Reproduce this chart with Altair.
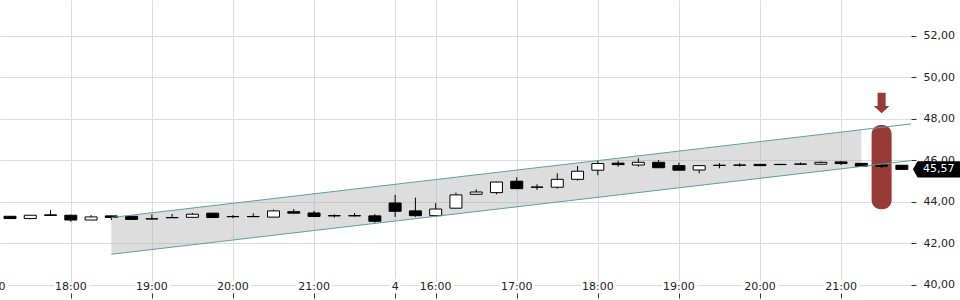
import altair as alt
import pandas as pd

# ---- candle data (15-minute bars, index-based x axis) ----
idx = list(range(45))
opens = [43.31, 43.20, 43.38, 43.36, 43.13, 43.33, 43.31, 43.19, 43.25, 43.26,
         43.46, 43.30, 43.30, 43.27, 43.53, 43.47, 43.34, 43.34, 43.33, 43.95,
         43.57, 43.34, 43.70, 44.37, 44.45, 45.00, 44.72, 44.71, 45.09, 45.53,
         45.87, 45.78, 45.91, 45.75, 45.54, 45.77, 45.78, 45.81, 45.81, 45.83,
         45.82, 45.93, 45.86, 45.78, 45.77]
highs = [43.33, 43.37, 43.61, 43.39, 43.37, 43.34, 43.32, 43.40, 43.42, 43.47,
         43.47, 43.37, 43.45, 43.63, 43.66, 43.57, 43.41, 43.47, 43.41, 44.34,
         44.21, 43.94, 44.45, 44.61, 44.98, 45.19, 44.85, 45.38, 45.73, 45.98,
         45.99, 46.10, 46.02, 45.89, 45.75, 45.87, 45.87, 45.83, 45.84, 45.90,
         45.96, 45.98, 45.87, 45.80, 45.78]
lows = [43.18, 43.17, 43.34, 43.05, 43.13, 43.13, 43.16, 43.14, 43.24, 43.26,
        43.24, 43.22, 43.28, 43.26, 43.45, 43.27, 43.25, 43.30, 43.00, 43.28,
        43.28, 43.34, 43.70, 44.37, 44.37, 44.64, 44.58, 44.64, 45.03, 45.29,
        45.70, 45.70, 45.65, 45.53, 45.38, 45.62, 45.70, 45.74, 45.79, 45.79,
        45.82, 45.78, 45.72, 45.62, 45.56]
closes = [43.20, 43.36, 43.35, 43.13, 43.28, 43.25, 43.16, 43.18, 43.24, 43.41,
          43.25, 43.29, 43.29, 43.57, 43.46, 43.30, 43.33, 43.33, 43.07, 43.55,
          43.34, 43.66, 44.34, 44.48, 44.96, 44.64, 44.71, 45.09, 45.48, 45.85,
          45.80, 45.91, 45.65, 45.53, 45.75, 45.76, 45.77, 45.75, 45.80, 45.82,
          45.91, 45.85, 45.72, 45.72, 45.57]

# ---- axis labels ----
tick_idx = [-1, 3, 7, 11, 15, 19, 21, 25, 29, 33, 37, 41]
tick_lbl = ["17:00", "18:00", "19:00", "20:00", "21:00", "4", "16:00",
            "17:00", "18:00", "19:00", "20:00", "21:00"]
y_ticks = [40, 42, 44, 46, 48, 50, 52]

# ---- trend channel ----
chan_x = [5, 44.45]
chan_upper = [43.25, 47.76]
chan_lower = [41.48, 45.99]
fill_x = [5, 42]
fill_upper = [43.25, 47.47]
fill_lower = [41.48, 45.70]

# ---- signal marker ----
signal_idx = [43]
pill_top = [47.71]
pill_bottom = [43.65]
arrow_y = [48.77]
last_close = closes[-1]

W, H = 911, 293
X_DOM = [-0.493, 44.45]
Y_DOM = [39.614, 53.73]
FONT = "DejaVu Sans"
RED = "#983b35"

xs = alt.Scale(domain=X_DOM, nice=False, zero=False, padding=0)
ys = alt.Scale(domain=Y_DOM, nice=False, zero=False, padding=0)

candles = pd.DataFrame({"i": idx, "open": opens, "high": highs,
                        "low": lows, "close": closes})
ticks_df = pd.DataFrame({"i": tick_idx, "lbl": tick_lbl})
chan_df = pd.DataFrame({"i": chan_x, "upper": chan_upper, "lower": chan_lower})
fill_df = pd.DataFrame({"i": fill_x, "upper": fill_upper, "lower": fill_lower})
sig_df = pd.DataFrame({"i": signal_idx, "top": pill_top, "bottom": pill_bottom,
                       "arrow": arrow_y})
tag_df = pd.DataFrame({"v": [last_close],
                       "txt": [f"{last_close:.2f}".replace(".", ",")]})

x_axis = alt.Axis(values=tick_idx, labels=False, grid=True, gridColor="#dcdcdc",
                  gridWidth=1, domain=False, ticks=True, tickColor="#333333",
                  tickSize=5, title=None)
y_axis = alt.Axis(orient="right", values=y_ticks,
                  labelExpr="replace(format(datum.value, '.2f'), '.', ',')",
                  grid=True, gridColor="#dcdcdc", gridWidth=1, domain=False,
                  tickColor="#333333", tickSize=5, labelPadding=7,
                  labelFont=FONT, labelFontSize=11, labelColor="#222222",
                  title=None)


def X(field="i:Q"):
    return alt.X(field, scale=xs, axis=x_axis)


def Y(field):
    return alt.Y(field, scale=ys, axis=y_axis)


fill = alt.Chart(fill_df).mark_area(color="#aaaaaa", opacity=0.4).encode(
    x=X(), y=Y("upper:Q"), y2="lower:Q",
)

up_line = alt.Chart(chan_df).mark_line(color="#5f9ea0", strokeWidth=1).encode(
    x=X(), y=Y("upper:Q"),
)
lo_line = alt.Chart(chan_df).mark_line(color="#5f9ea0", strokeWidth=1).encode(
    x=X(), y=Y("lower:Q"),
)

pill = alt.Chart(sig_df).mark_bar(size=20, cornerRadius=9, color=RED).encode(
    x=X(), y=Y("top:Q"), y2="bottom:Q",
)

arrow_path = "M-0.39,-1L0.39,-1L0.39,0.29L0.76,0.29L0,1L-0.76,0.29L-0.39,0.29Z"
arrow = alt.Chart(sig_df).mark_point(shape=arrow_path, filled=True, size=424,
                                     color=RED, opacity=1, strokeWidth=0).encode(
    x=X(), y=Y("arrow:Q"),
)

wicks = alt.Chart(candles).mark_rule(color="black", strokeWidth=1).encode(
    x=X(), y=Y("low:Q"), y2="high:Q",
)
bodies = alt.Chart(candles).mark_bar(size=12, stroke="black", strokeWidth=1).encode(
    x=X(), y=Y("open:Q"), y2="close:Q",
    fill=alt.condition("datum.close >= datum.open", alt.value("white"),
                       alt.value("black")),
)

lbl_halo = alt.Chart(ticks_df).mark_text(font=FONT, fontSize=11, color="white",
                                         stroke="white", strokeWidth=6,
                                         strokeJoin="round", baseline="middle").encode(
    x=X(), y=alt.value(287), text="lbl:N",
)
lbl_text = alt.Chart(ticks_df).mark_text(font=FONT, fontSize=11, color="#222222",
                                         baseline="middle").encode(
    x=X(), y=alt.value(287), text="lbl:N",
)

tag_path = "M0,0L0.19,-0.34L2.1,-0.34L2.1,0.34L0.19,0.34Z"
tag = alt.Chart(tag_df).mark_point(shape=tag_path, filled=True, size=2304,
                                   color="black", opacity=1, strokeWidth=0).encode(
    x=alt.value(W + 2), y=Y("v:Q"),
)
tag_text = alt.Chart(tag_df).mark_text(font=FONT, fontSize=11, color="white",
                                       align="left", baseline="middle").encode(
    x=alt.value(W + 12), y=Y("v:Q"), text="txt:N",
)

chart = alt.layer(
    fill, pill, wicks, bodies, up_line, lo_line, arrow,
    lbl_halo, lbl_text, tag, tag_text,
).properties(
    width=W, height=H,
    padding={"left": 0, "top": 0, "right": 49, "bottom": 7},
    autosize=alt.AutoSizeParams(type="none"),
    background="white",
).configure_view(stroke=None)

chart.save("out.html", embed_options={"renderer": "svg", "actions": False})
